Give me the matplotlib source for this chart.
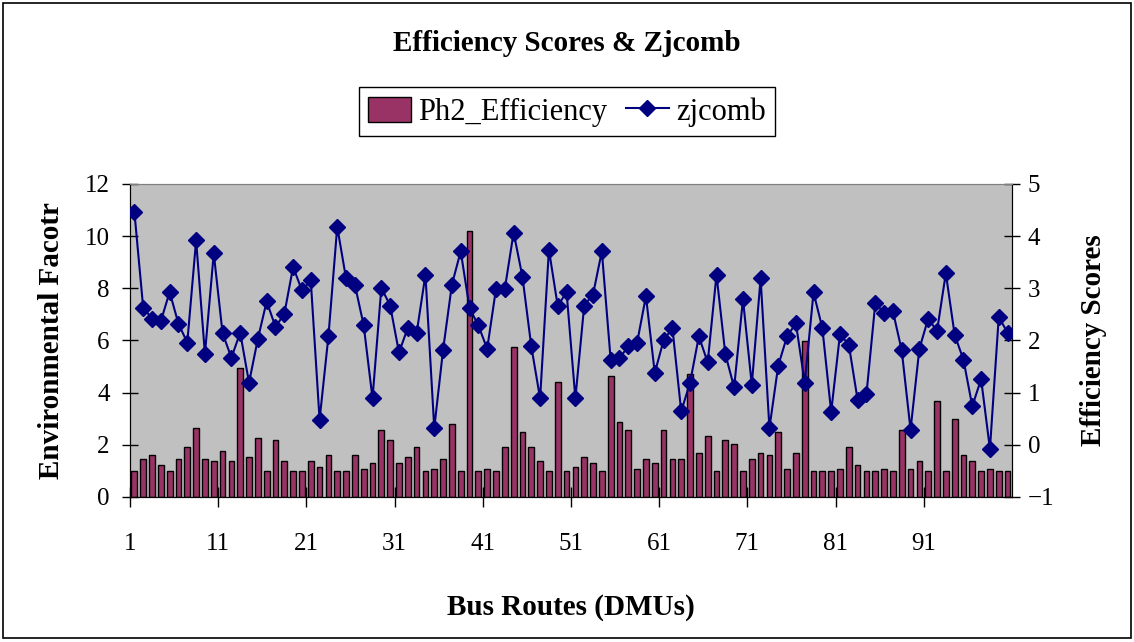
import numpy as np
import matplotlib
matplotlib.use('Agg')
import matplotlib.pyplot as plt
from matplotlib.patches import Rectangle

plt.rcParams['font.family'] = ['Liberation Serif', 'DejaVu Serif']

# datos
rutas = np.arange(1, 101)

ph2_efficiency = [
    1.0, 1.45, 1.6, 1.23, 1.0, 1.45, 1.9, 2.64, 1.45, 1.37,
    1.75, 1.37, 4.95, 1.53, 2.26, 1.0, 2.19, 1.37, 1.0, 1.0,
    1.37, 1.16, 1.6, 1.0, 1.0, 1.6, 1.08, 1.3, 2.57, 2.19,
    1.3, 1.53, 1.9, 1.0, 1.08, 1.45, 2.78, 1.0, 10.18, 1.0,
    1.08, 1.0, 1.9, 5.75, 2.49, 1.9, 1.37, 1.0, 4.42, 1.0,
    1.16, 1.53, 1.3, 1.0, 4.63, 2.86, 2.57, 1.08, 1.45, 1.3,
    2.57, 1.45, 1.45, 4.72, 1.67, 2.33, 1.0, 2.19, 2.04, 1.0,
    1.45, 1.67, 1.6, 2.49, 1.08, 1.67, 5.98, 1.0, 1.0, 1.0,
    1.08, 1.9, 1.23, 1.0, 1.0, 1.08, 1.0, 2.57, 1.08, 1.37,
    1.0, 3.69, 1.0, 3.0, 1.6, 1.37, 1.0, 1.08, 1.0, 1.0,
]

zjcomb = [
    4.47, 2.63, 2.42, 2.37, 2.93, 2.32, 1.96, 3.92, 1.74, 3.67,
    2.14, 1.67, 2.15, 1.19, 2.03, 2.75, 2.26, 2.51, 3.41, 2.96,
    3.15, 0.48, 2.08, 4.18, 3.19, 3.07, 2.29, 0.89, 3.01, 2.67,
    1.77, 2.24, 2.14, 3.26, 0.32, 1.82, 3.07, 3.71, 2.62, 2.29,
    1.84, 2.99, 2.99, 4.07, 3.22, 1.89, 0.89, 3.74, 2.66, 2.93,
    0.89, 2.67, 2.88, 3.71, 1.63, 1.66, 1.89, 1.96, 2.85, 1.38,
    2.0, 2.24, 0.64, 1.19, 2.08, 1.58, 3.26, 1.74, 1.10, 2.79,
    1.15, 3.19, 0.32, 1.52, 2.08, 2.33, 1.19, 2.92, 2.24, 0.63,
    2.12, 1.92, 0.86, 0.97, 2.71, 2.53, 2.56, 1.81, 0.29, 1.84,
    2.42, 2.18, 3.29, 2.11, 1.63, 0.74, 1.26, -0.08, 2.45, 2.15,
]

etiquetas_x = [str(i) for i in range(1, 92, 10)]

fig = plt.figure(figsize=(11.34, 6.42), dpi=100)
fig.patch.set_facecolor('white')
fig.patches.append(Rectangle((0.003, 0.006), 0.994, 0.99, transform=fig.transFigure,
                             fill=False, edgecolor='black', linewidth=1.2))

ax = fig.add_axes([0.1146, 0.2259, 0.7778, 0.4875])
ax.set_facecolor('#C0C0C0')
barras = ax.bar(rutas, ph2_efficiency, width=0.65, color='#993366',
                edgecolor='black', linewidth=1.0, zorder=2)
ax.set_xlim(0.5, 100.5)
ax.set_ylim(0, 12)
ax.set_yticks(np.arange(0, 13, 2))
ax.set_xticks(np.arange(0.5, 91, 10))
ax.set_xticklabels(etiquetas_x)
ax.tick_params(axis='y', direction='inout', length=11, width=1, labelsize=18, pad=9)
ax.tick_params(axis='x', direction='inout', length=14, width=1, labelsize=18, pad=19)
ax.set_ylabel('Environmental Facotr', fontsize=21, fontweight='bold', labelpad=14)
ax.set_xlabel('Bus Routes (DMUs)', fontsize=21, fontweight='bold', labelpad=28)

ax2 = ax.twinx()
linea, = ax2.plot(rutas, zjcomb, color='#000080', linewidth=1.5, marker='D',
                  markersize=8.5, zorder=3)
ax2.set_ylim(-1, 5)
ax2.set_yticks(np.arange(-1, 6, 1))
ax2.tick_params(axis='y', direction='inout', length=11, width=1, labelsize=18, pad=6)
ax2.set_ylabel('Efficiency Scores', fontsize=21, fontweight='bold', labelpad=18)

for a in (ax, ax2):
    a.spines['top'].set_color('#808080')
    a.spines['left'].set_color('black')
    a.spines['right'].set_color('black')
    a.spines['bottom'].set_color('black')

fig.text(0.5, 0.932, 'Efficiency Scores & Zjcomb', ha='center', va='center',
         fontsize=21, fontweight='bold')

fig.legend([barras, linea], ['Ph2_Efficiency', 'zjcomb'], loc='center',
           bbox_to_anchor=(0.5, 0.826), ncol=2, fontsize=22, frameon=True,
           fancybox=False, edgecolor='black', framealpha=1, borderpad=0.3,
           handlelength=1.4, handleheight=0.9, handletextpad=0.25, columnspacing=0.6)

fig.savefig('out.png', dpi=100)
